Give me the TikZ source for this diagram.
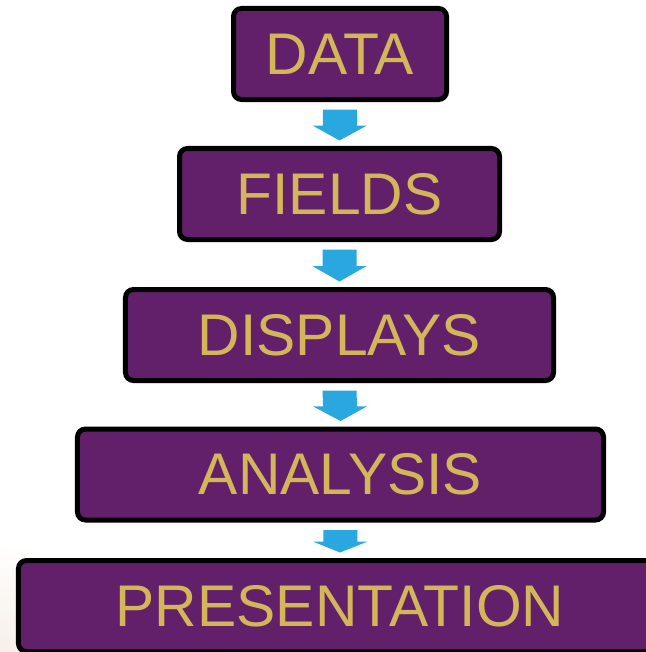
\documentclass[tikz,border=0pt]{standalone}
\usepackage{fontspec}
\setmainfont{Liberation Sans}
\usetikzlibrary{calc}
\definecolor{stagefill}{RGB}{98,32,107}
\definecolor{stagetext}{RGB}{212,181,90}
\definecolor{flowblue}{RGB}{41,168,224}
\definecolor{paperbeige}{RGB}{246,240,230}
\tikzset{
  stagebox/.style={draw=black, line width=5bp, fill=stagefill, rounded corners=8bp,
    text=stagetext, font=\fontsize{59}{62}\selectfont, inner sep=0pt,
    minimum height=91bp},
  flowarrow/.style={fill=flowblue, draw=none}
}
\begin{document}
\begin{tikzpicture}[x=1bp,y=-1bp]
\useasboundingbox (0,0) rectangle (646,652);
\clip (0,0) rectangle (646,652);
\fill[white] (0,0) rectangle (646,652);
% soft warm tint in the lower left corner
\shade[inner color=paperbeige, outer color=white] (0,652) circle (110);

\node[stagebox, minimum width=213bp] (data)    at (340,54)    {DATA};
\node[stagebox, minimum width=320bp] (fields)  at (339.5,194) {FIELDS};
\node[stagebox, minimum width=428bp] (displays) at (339.5,335) {DISPLAYS};
\node[stagebox, minimum width=526bp] (analysis) at (340.5,474.5) {ANALYSIS};
\node[stagebox, minimum width=643bp] (present) at (340,606) {PRESENTATION};

% block arrows between consecutive stages
\foreach \a/\b in {data/fields, fields/displays, displays/analysis, analysis/present}{
  \coordinate (s) at ($(\a.south)+(0,7.5)$);
  \coordinate (t) at ($(\b.north)+(0,-5.5)$);
  \coordinate (m) at ($(s)!0.52!(t)$);
  \fill[flowarrow] ($(s)+(-17,0)$) -- ($(s)+(17,0)$) -- ($(m)+(17,0)$)
    -- ($(m)+(27,0)$) -- (t) -- ($(m)+(-27,0)$)
    -- ($(m)+(-17,0)$) -- cycle;
}
\end{tikzpicture}
\end{document}
